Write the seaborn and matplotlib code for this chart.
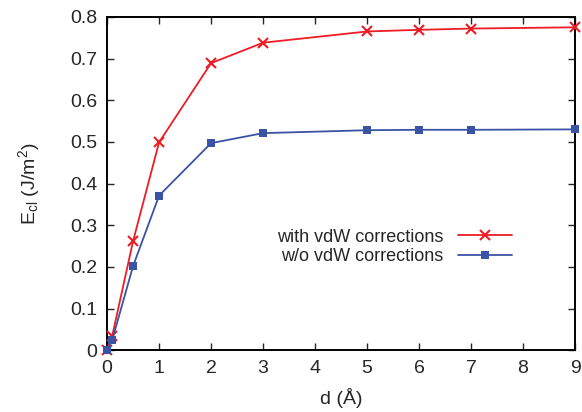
import matplotlib
matplotlib.use("Agg")
import matplotlib.pyplot as plt
import seaborn as sns

# Data
d_vals = [0, 0.1, 0.5, 1, 2, 3, 5, 6, 7, 9]
with_vdw = [0.0, 0.035, 0.262, 0.499, 0.689, 0.738, 0.765, 0.769, 0.772, 0.775]
without_vdw = [0.0, 0.025, 0.202, 0.371, 0.497, 0.521, 0.528, 0.529, 0.529, 0.530]
labels = ["with vdW corrections", "w/o vdW corrections"]
x_ticks = list(range(0, 10))
y_ticks = [0, 0.1, 0.2, 0.3, 0.4, 0.5, 0.6, 0.7, 0.8]
y_tick_labels = ["0", "0.1", "0.2", "0.3", "0.4", "0.5", "0.6", "0.7", "0.8"]

sns.set_style("ticks")
plt.rcParams["font.family"] = ["Liberation Sans", "DejaVu Sans"]
plt.rcParams["mathtext.default"] = "regular"

fig = plt.figure(figsize=(5.82, 4.12), dpi=100)
ax = fig.add_axes([0.184, 0.150, 0.804, 0.809])

red = "#ee1c25"
blue = "#3a53a4"
sns.lineplot(x=d_vals, y=with_vdw, color=red, marker="x",
             markersize=7.5, markeredgewidth=1.5, markeredgecolor=red,
             linewidth=1.3, label=labels[0], ax=ax, clip_on=False, zorder=3)
sns.lineplot(x=d_vals, y=without_vdw, color=blue, marker="s",
             markersize=6, markeredgewidth=0, linewidth=1.3,
             label=labels[1], ax=ax, clip_on=False, zorder=4)

ax.set_xlim(0, 9)
ax.set_ylim(0, 0.8)
ax.set_xticks(x_ticks)
ax.set_yticks(y_ticks)
ax.set_yticklabels(y_tick_labels)
ax.tick_params(direction="in", top=True, right=True, length=5, width=1,
               labelsize=14, pad=7)
for s in ax.spines.values():
    s.set_visible(True)
    s.set_linewidth(1.4)
    s.set_color("black")
    s.set_zorder(2)

ax.set_xlabel("d (Å)", fontsize=14, labelpad=8)
ax.set_ylabel("E$_{cl}$ (J/m$^2$)", fontsize=14, labelpad=20)

handles, lbls = ax.get_legend_handles_labels()
leg = ax.legend(handles, lbls, loc="center right", bbox_to_anchor=(0.865, 0.31),
                frameon=False, markerfirst=False, fontsize=13, borderpad=0,
                borderaxespad=0, handlelength=3.0, labelspacing=0.12,
                handletextpad=0.8)
for t in leg.get_texts():
    t.set_ha("right")
leg._legend_box.align = "right"

fig.savefig("out.png", dpi=100)
